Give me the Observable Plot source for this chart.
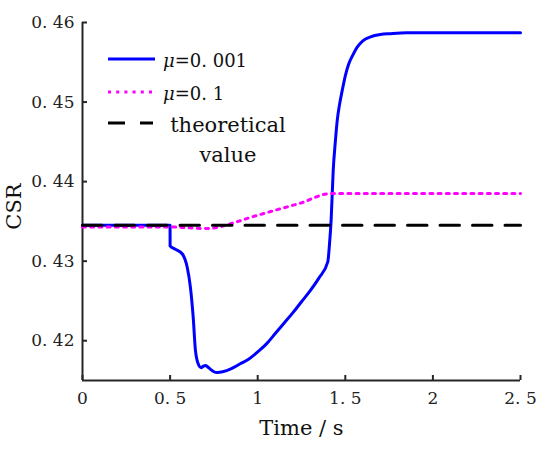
<!DOCTYPE html>
<html>
<head>
<meta charset="utf-8">
<script src="https://cdn.jsdelivr.net/npm/d3@7"></script>
<script src="https://cdn.jsdelivr.net/npm/@observablehq/plot@0.6"></script>
<style>
  body { margin: 0; background: #fff; }
</style>
</head>
<body>
<div id="chart"></div>
<script>
// mu = 0.001 (solid blue)
const timeFast = [0, 0.4999, 0.5, 0.53, 0.57, 0.598, 0.616, 0.632, 0.645, 0.664, 0.677, 0.69, 0.702, 0.715, 0.731, 0.75, 0.769, 0.80, 0.85, 0.9, 0.95, 1.0, 1.05, 1.1, 1.15, 1.2, 1.25, 1.3, 1.35, 1.40, 1.41, 1.419, 1.431, 1.443, 1.454, 1.468, 1.482, 1.50, 1.52, 1.545, 1.568, 1.60, 1.644, 1.70, 1.758, 1.85, 2.0, 2.5]
const csrFast = [0.4345, 0.4345, 0.4319, 0.4315, 0.4309, 0.4292, 0.4267, 0.4229, 0.4187, 0.4169, 0.4166, 0.4168, 0.4169, 0.4167, 0.4164, 0.4161, 0.4160, 0.4161, 0.4165, 0.4171, 0.4177, 0.4186, 0.4196, 0.4209, 0.4222, 0.4235, 0.4249, 0.4263, 0.4279, 0.4299, 0.4322, 0.4351, 0.4414, 0.4450, 0.4477, 0.4498, 0.4514, 0.4533, 0.4548, 0.4560, 0.4569, 0.4577, 0.4582, 0.4585, 0.4586, 0.4587, 0.4587, 0.4587]

// mu = 0.1 (dotted magenta)
const timeSlow = [0, 0.5, 0.6, 0.7, 0.78, 0.845, 0.959, 1.1, 1.244, 1.416, 2.5]
const csrSlow = [0.4343, 0.4343, 0.4342, 0.4341, 0.4343, 0.4347, 0.4355, 0.4364, 0.4373, 0.4385, 0.4385]

// theoretical value (dashed black)
const timeTheory = [0, 2.5]
const csrTheory = [0.4345, 0.4345]

const xTicks = [0, 0.5, 1, 1.5, 2, 2.5]
const yTicks = [0.42, 0.43, 0.44, 0.45, 0.46]

const zip = (ts, vs) => ts.map((t, i) => ({t: t, v: vs[i]}))
const fast = zip(timeFast, csrFast)
const slow = zip(timeSlow, csrSlow)
const theory = zip(timeTheory, csrTheory)

// tick labels drawn like the original: "0. 46"
const fmt = d => String(d).replace(".", ". ")

const W = 550, H = 455
const mL = 82, mR = 30, mT = 22, mB = 75
const xDom = [0, 2.5], yDom = [0.415, 0.46]
// data units per pixel, used for the short inward tick marks
const xPerPx = (xDom[1] - xDom[0]) / (W - mL - mR)
const yPerPx = (yDom[1] - yDom[0]) / (H - mT - mB)
const axisColor = '#262626'
const font = 'DejaVu Serif'

const chart = Plot.plot({
  width: W,
  height: H,
  marginLeft: mL,
  marginRight: mR,
  marginTop: mT,
  marginBottom: mB,
  x: {domain: xDom},
  y: {domain: yDom},
  style: {fontFamily: font, background: '#fff', color: '#222'},
  marks: [
    Plot.axisX(xTicks, {tickSize: 0, tickPadding: 11, tickFormat: fmt, fontSize: 17, label: null}),
    Plot.axisY(yTicks, {tickSize: 0, tickPadding: 8, tickFormat: fmt, fontSize: 17, label: null}),
    // inward ticks
    Plot.ruleX(xTicks, {x: d => d, y1: yDom[0], y2: yDom[0] + 5 * yPerPx, stroke: axisColor, strokeWidth: 2}),
    Plot.ruleY(yTicks, {y: d => d, x1: xDom[0], x2: xDom[0] + 5 * xPerPx, stroke: axisColor, strokeWidth: 2}),
    // axis lines
    Plot.ruleX([xDom[0]], {y1: yDom[0], y2: yDom[1], stroke: axisColor, strokeWidth: 2}),
    Plot.ruleY([yDom[0]], {x1: xDom[0], x2: xDom[1], stroke: axisColor, strokeWidth: 2}),
    // series
    Plot.line(fast, {x: 't', y: 'v', stroke: '#0000ff', strokeWidth: 3, curve: 'monotone-x'}),
    Plot.line(slow, {x: 't', y: 'v', stroke: '#ff00ff', strokeWidth: 3, strokeDasharray: '3,5.2', curve: 'monotone-x'}),
    Plot.line(theory, {x: 't', y: 'v', stroke: '#000', strokeWidth: 3, strokeDasharray: '19.5,13'}),
    // axis titles
    Plot.text(['Time / s'], {frameAnchor: 'bottom', dy: 54, fontSize: 21, fill: '#111'}),
    Plot.text(['CSR'], {frameAnchor: 'left', textAnchor: 'middle', dx: -68, dy: 5, rotate: -90, fontSize: 21, fill: '#111'})
  ]
})

d3.select('#chart').append(() => chart)

// legend inside the plot area, top left
const svg = d3.select(chart)
const lg = svg.append('g').attr('font-family', font).attr('fill', '#111').attr('text-anchor', 'start')
const items = [
  {label: '=0. 001', stroke: '#0000ff', dash: null, y: 59},
  {label: '=0. 1', stroke: '#ff00ff', dash: '3,5.2', y: 92}
]
for (const it of items) {
  lg.append('line')
    .attr('x1', 108).attr('x2', 155).attr('y1', it.y).attr('y2', it.y)
    .attr('stroke', it.stroke).attr('stroke-width', 3)
    .attr('stroke-dasharray', it.dash)
  const t = lg.append('text').attr('x', 163).attr('y', it.y + 8).attr('font-size', 18)
  t.append('tspan').attr('font-style', 'italic').text('μ')
  t.append('tspan').text(it.label)
}
lg.append('line')
  .attr('x1', 108).attr('x2', 153).attr('y1', 123).attr('y2', 123)
  .attr('stroke', '#000').attr('stroke-width', 3)
  .attr('stroke-dasharray', '17,15')
lg.append('text').attr('x', 228).attr('y', 132).attr('font-size', 21)
  .attr('text-anchor', 'middle').text('theoretical')
lg.append('text').attr('x', 228).attr('y', 162).attr('font-size', 21)
  .attr('text-anchor', 'middle').text('value')
</script>
</body>
</html>
